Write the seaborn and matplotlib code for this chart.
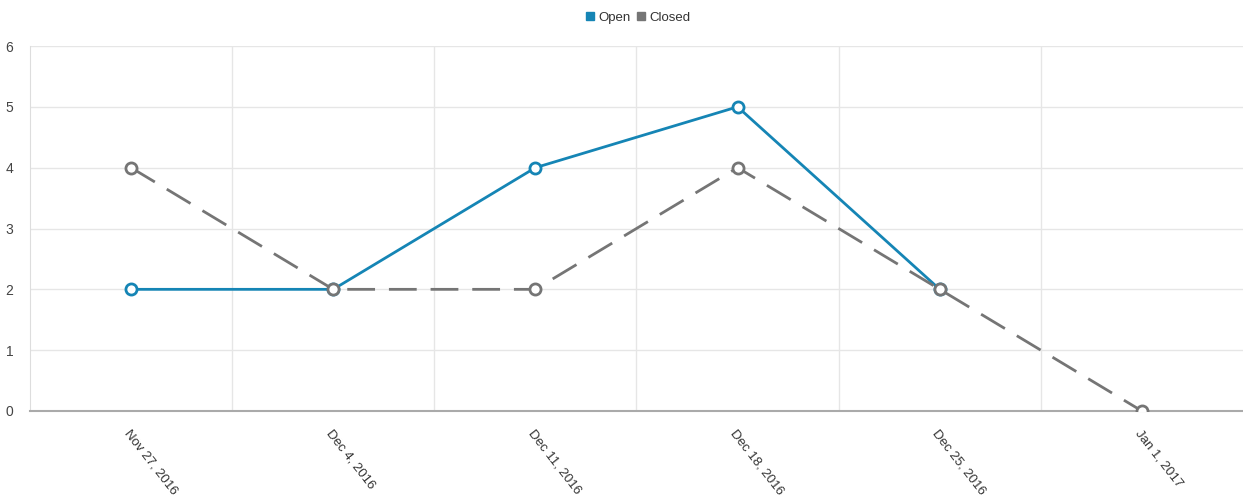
import seaborn as sns
import numpy as np
import matplotlib.pyplot as plt
import pandas as pd
from matplotlib.lines import Line2D

# Weekly counts (Open has no value for the last week)
weeks = ['Nov 27, 2016', 'Dec 4, 2016', 'Dec 11, 2016',
         'Dec 18, 2016', 'Dec 25, 2016', 'Jan 1, 2017']
open_counts = [2, 2, 4, 5, 2, np.nan]
closed_counts = [4, 2, 2, 4, 2, 0]

blue = '#1585b5'
grey = '#757575'

sns.set_style('white')
plt.rcParams['font.family'] = ['Liberation Sans Narrow', 'Liberation Sans', 'DejaVu Sans']

df = pd.DataFrame({'Week': list(range(len(weeks))) * 2,
                   'Count': open_counts + closed_counts,
                   'Status': ['Open'] * len(weeks) + ['Closed'] * len(weeks)})

fig = plt.figure(figsize=(12.43, 5), dpi=100)
ax = fig.add_axes([0.0241, 0.178, 0.9759, 0.730])

sns.lineplot(data=df[df['Status'] == 'Open'].dropna(), x='Week', y='Count', ax=ax,
             color=blue, lw=2, marker='o', markersize=8,
             markerfacecolor='white', markeredgecolor=blue, markeredgewidth=2,
             zorder=3)
sns.lineplot(data=df[df['Status'] == 'Closed'], x='Week', y='Count', ax=ax,
             color=grey, lw=2, marker='o', markersize=8,
             markerfacecolor='white', markeredgecolor=grey, markeredgewidth=2,
             dashes=False, zorder=4)
ax.lines[-1].set_dashes((10, 5))

ax.set_xlim(-0.5, len(weeks) - 0.5)
ax.set_ylim(0, 6)
ax.set_xlabel('')
ax.set_ylabel('')

# category labels in the middle, tick marks / gridlines at the boundaries
ax.set_xticks(range(len(weeks)))
ax.set_xticklabels(weeks, rotation=-52, ha='left', va='top',
                   rotation_mode='anchor', fontsize=9.5, color='#333333')
ax.set_xticks(np.arange(0.5, len(weeks) - 0.5, 1), minor=True)
ax.tick_params(axis='x', which='major', length=0, pad=12)
ax.tick_params(axis='x', which='minor', length=6, color='#cccccc', width=1)
ax.xaxis.grid(True, which='minor', color='#e6e6e6', lw=1)

ax.set_yticks(range(0, 7))
ax.tick_params(axis='y', length=0, labelsize=10, labelcolor='#444444', pad=12)
ax.yaxis.grid(True, color='#e6e6e6', lw=1)
ax.set_axisbelow(True)

for s in ['top', 'right']:
    ax.spines[s].set_visible(False)
ax.spines['left'].set_color('#dddddd')
ax.spines['bottom'].set_color('#aaaaaa')
ax.spines['bottom'].set_linewidth(1.5)

handles = [Line2D([], [], marker='s', ls='', color=blue, markersize=6),
           Line2D([], [], marker='s', ls='', color=grey, markersize=6)]
fig.legend(handles, ['Open', 'Closed'], loc='upper center', ncol=2,
           bbox_to_anchor=(0.512, 1.0), frameon=False, fontsize=9.5,
           handletextpad=0.0, columnspacing=0.2, handlelength=1.2,
           labelcolor='#333333')

fig.savefig('out.png', dpi=100)
